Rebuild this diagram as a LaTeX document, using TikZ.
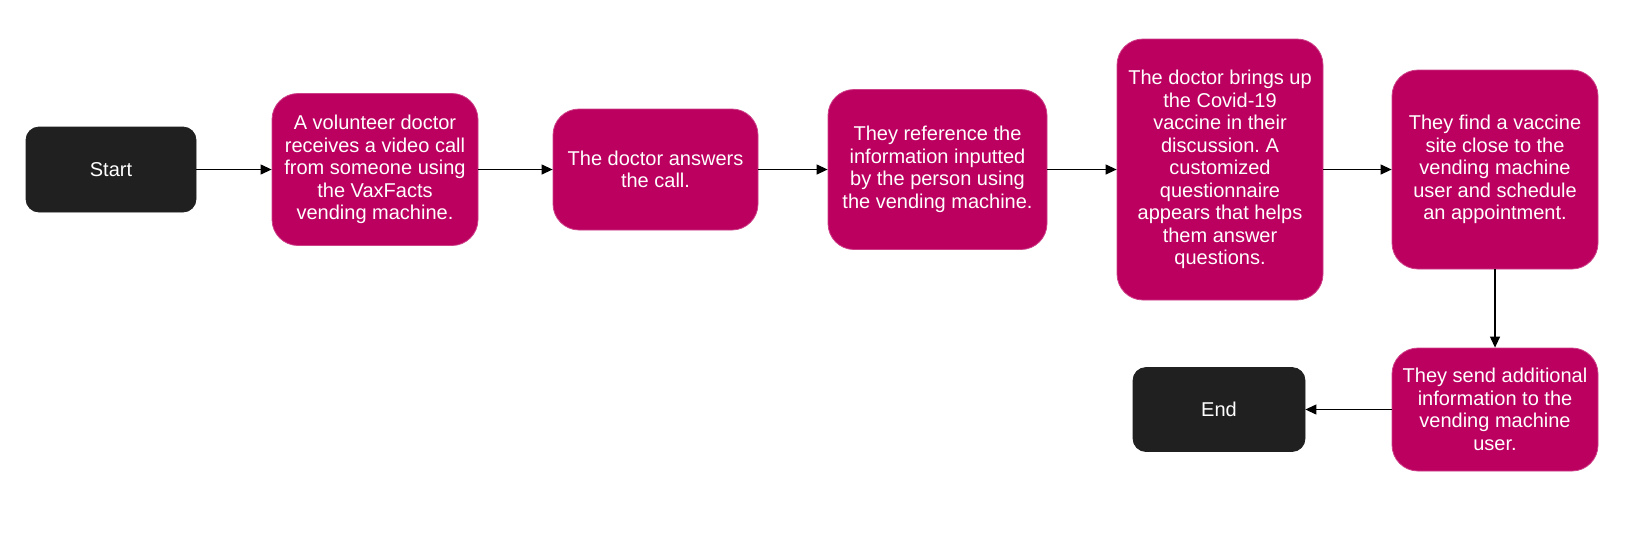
\documentclass[tikz,border=0pt]{standalone}
\usepackage{fontspec}
\setmainfont{Liberation Sans}
\usetikzlibrary{arrows.meta}
\frenchspacing
\definecolor{vaxpink}{HTML}{BC0060}
\definecolor{termgray}{HTML}{202020}
\tikzset{
  pinkbox/.style={fill=vaxpink, draw=vaxpink!75!white, line width=0.4pt,
    rounded corners=13pt, text=white, align=center, inner sep=0pt,
    font=\fontsize{10}{11.25}\selectfont},
  termbox/.style={fill=termgray, draw=termgray, rounded corners=6.5pt,
    text=white, inner sep=0pt, minimum width=85pt, minimum height=42.5pt,
    font=\fontsize{10}{12}\selectfont},
  flowarrow/.style={-{Triangle[length=5.5pt,width=5pt]}, line width=0.6pt}
}
\begin{document}
\begin{tikzpicture}[x=0.5pt,y=-0.5pt]
    \useasboundingbox (0,0) rectangle (1652,542);

    \node (start) at (111, 169.5) [termbox] {Start};
    \node (call) at (375, 169.5) [pinkbox, minimum width=103pt, minimum height=76pt]
      {A volunteer doctor\\receives a video call\\from someone using\\the VaxFacts\\vending machine.};
    \node (answer) at (655.5, 169.5) [pinkbox, minimum width=102.5pt, minimum height=60.5pt]
      {The doctor answers\\the call.};
    \node (inputs) at (937.5, 169.5) [pinkbox, minimum width=109.5pt, minimum height=80pt]
      {They reference the\\information inputted\\by the person using\\the vending machine.};
    \node (covid) at (1220, 169.5) [pinkbox, minimum width=103pt, minimum height=130.5pt]
      {The doctor brings up\\the Covid-19\\vaccine in their\\discussion. A\\customized\\questionnaire\\appears that helps\\them answer\\questions.};
    \node (site) at (1495, 169.5) [pinkbox, minimum width=103pt, minimum height=99.5pt]
      {They find a vaccine\\site close to the\\vending machine\\user and schedule\\an appointment.};
    \node (info) at (1495, 409.5) [pinkbox, minimum width=103pt, minimum height=61.5pt]
      {They send additional\\information to the\\vending machine\\user.};
    \node (end) at (1219, 409.5) [termbox, minimum width=86pt, minimum height=42pt] {End};

    % main row
    \draw[flowarrow] (start) -- (call);
    \draw[flowarrow] (call) -- (answer);
    \draw[flowarrow] (answer) -- (inputs);
    \draw[flowarrow] (inputs) -- (covid);
    \draw[flowarrow] (covid) -- (site);

    % back row
    \draw[flowarrow] (site) -- (info);
    \draw[flowarrow] (info) -- (end);
  \end{tikzpicture}
\end{document}
